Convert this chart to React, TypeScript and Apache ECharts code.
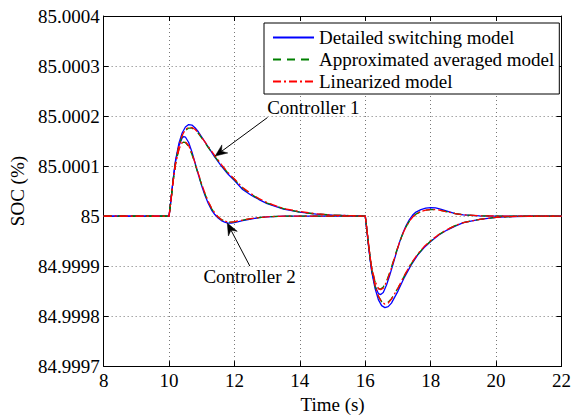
import React, { useEffect, useRef } from "react";
import * as echarts from "echarts";

const FONT = "Liberation Serif, serif";

// SOC deviation from 85 %, in units of 1e-4 %
const AXIS_BASE = 85;
const AXIS_UNIT = 1e-4;

const legendNames = ["Detailed switching model", "Approximated averaged model", "Linearized model"];

// Controller 1 sample times (s)
const timeC1 = [
  8, 10, 10.05, 10.1, 10.15, 10.2, 10.3, 10.4, 10.5, 10.6, 10.7, 10.8, 10.9, 11, 11.2, 11.4, 11.6, 11.8, 12,
  12.25, 12.5, 12.75, 13, 13.5, 14, 14.5, 15, 15.5, 16,
  16.05, 16.1, 16.15, 16.2, 16.3, 16.4, 16.5, 16.6, 16.7, 16.8, 16.9, 17, 17.2, 17.4, 17.6, 17.8, 18,
  18.25, 18.5, 18.75, 19, 19.5, 20, 20.5, 21, 22,
];
const detailedC1 = [
  0, 0, 0.28, 0.58, 0.87, 1.12, 1.45, 1.66, 1.78, 1.83, 1.82, 1.76, 1.68, 1.58, 1.38, 1.18, 1.0, 0.84, 0.71,
  0.53, 0.42, 0.33, 0.25, 0.14, 0.08, 0.04, 0.02, 0.01, 0,
  -0.3, -0.6, -0.88, -1.12, -1.45, -1.67, -1.79, -1.83, -1.81, -1.74, -1.62, -1.5, -1.22, -0.98, -0.78, -0.63, -0.51,
  -0.38, -0.28, -0.2, -0.13, -0.065, -0.025, -0.01, -0.004, 0,
];
const averagedC1 = [
  0, 0, 0.27, 0.56, 0.84, 1.08, 1.4, 1.6, 1.71, 1.76, 1.76, 1.72, 1.65, 1.56, 1.37, 1.19, 1.02, 0.86, 0.73,
  0.56, 0.44, 0.34, 0.26, 0.15, 0.08, 0.04, 0.02, 0.01, 0,
  -0.29, -0.58, -0.85, -1.08, -1.4, -1.6, -1.71, -1.74, -1.72, -1.65, -1.55, -1.44, -1.19, -0.96, -0.77, -0.62, -0.5,
  -0.37, -0.27, -0.19, -0.13, -0.065, -0.025, -0.01, -0.004, 0,
];
const linearizedC1 = [
  0, 0, 0.26, 0.55, 0.83, 1.07, 1.4, 1.61, 1.73, 1.78, 1.77, 1.73, 1.66, 1.57, 1.39, 1.21, 1.03, 0.87, 0.74,
  0.57, 0.45, 0.35, 0.27, 0.15, 0.09, 0.045, 0.02, 0.01, 0,
  -0.28, -0.57, -0.84, -1.07, -1.39, -1.6, -1.72, -1.76, -1.74, -1.66, -1.55, -1.44, -1.18, -0.95, -0.76, -0.61, -0.49,
  -0.37, -0.27, -0.19, -0.13, -0.065, -0.025, -0.01, -0.004, 0,
];

// Controller 2 sample times (s)
const timeC2 = [
  8, 10, 10.05, 10.1, 10.15, 10.2, 10.3, 10.4, 10.45, 10.5, 10.6, 10.7, 10.8, 10.9, 11, 11.1, 11.2, 11.3, 11.4,
  11.5, 11.6, 11.7, 11.8, 11.9, 12, 12.25, 12.5, 12.75, 13, 13.5, 16,
  16.05, 16.1, 16.15, 16.2, 16.3, 16.4, 16.47, 16.55, 16.65, 16.75, 16.85, 16.95, 17.05, 17.15, 17.25, 17.35,
  17.45, 17.55, 17.7, 17.85, 18, 18.15, 18.3, 18.5, 18.75, 19, 19.5, 20, 22,
];
const detailedC2 = [
  0, 0, 0.28, 0.58, 0.86, 1.1, 1.4, 1.56, 1.59, 1.58, 1.47, 1.28, 1.05, 0.82, 0.6, 0.41, 0.25, 0.12, 0.03,
  -0.04, -0.09, -0.12, -0.14, -0.14, -0.13, -0.09, -0.06, -0.03, -0.015, 0, 0,
  -0.28, -0.58, -0.86, -1.1, -1.4, -1.55, -1.57, -1.53, -1.38, -1.18, -0.96, -0.73, -0.52, -0.34, -0.19, -0.07,
  0.02, 0.08, 0.13, 0.16, 0.17, 0.165, 0.14, 0.1, 0.05, 0.025, 0.005, 0, 0,
];
const averagedC2 = [
  0, 0, 0.27, 0.56, 0.83, 1.05, 1.33, 1.46, 1.48, 1.47, 1.39, 1.23, 1.03, 0.82, 0.62, 0.44, 0.28, 0.15, 0.05,
  -0.02, -0.07, -0.1, -0.12, -0.12, -0.115, -0.08, -0.05, -0.03, -0.015, 0, 0,
  -0.27, -0.56, -0.83, -1.05, -1.32, -1.45, -1.46, -1.42, -1.3, -1.12, -0.92, -0.71, -0.52, -0.35, -0.21, -0.1,
  -0.02, 0.04, 0.09, 0.12, 0.13, 0.13, 0.115, 0.085, 0.05, 0.025, 0.005, 0, 0,
];
const linearizedC2 = [
  0, 0, 0.26, 0.55, 0.82, 1.04, 1.33, 1.47, 1.49, 1.48, 1.41, 1.25, 1.05, 0.84, 0.64, 0.45, 0.29, 0.16, 0.06,
  -0.02, -0.07, -0.1, -0.12, -0.12, -0.11, -0.08, -0.05, -0.03, -0.015, 0, 0,
  -0.26, -0.55, -0.82, -1.04, -1.31, -1.45, -1.47, -1.44, -1.32, -1.14, -0.93, -0.72, -0.52, -0.35, -0.21, -0.1,
  -0.02, 0.04, 0.09, 0.12, 0.13, 0.13, 0.115, 0.085, 0.05, 0.025, 0.005, 0, 0,
];

// Callouts: label anchor, arrow tail and arrow tip, all in data coordinates
const callouts = [
  { label: "Controller 1", at: [13.0, 2.17], tail: [13.01, 1.97], tip: [11.41, 1.2] },
  { label: "Controller 2", at: [11.05, -1.21], tail: [12.47, -1.0], tip: [11.78, -0.14] },
];

const zip = (t: number[], v: number[]) => t.map((x, i) => [x, v[i]]);

const styles = [
  { color: "#0000ff", type: "solid" as any },
  { color: "#008000", type: [8, 6] as any },
  { color: "#ff0000", type: [8, 3, 2, 3] as any },
];

function makeSeries() {
  const groups = [
    [timeC1, [detailedC1, averagedC1, linearizedC1]],
    [timeC2, [detailedC2, averagedC2, linearizedC2]],
  ] as [number[], number[][]][];
  const out: any[] = [];
  for (let m = 0; m < 3; m++) {
    for (const [t, vals] of groups) {
      out.push({
        type: "line",
        name: legendNames[m],
        data: zip(t, vals[m]),
        symbol: "none",
        showSymbol: false,
        z: 2 + m,
        lineStyle: { color: styles[m].color, width: 1.3, type: styles[m].type },
        itemStyle: { color: styles[m].color },
      });
    }
  }
  return out;
}

const axisCommon = {
  axisLine: { show: true, onZero: false, lineStyle: { color: "#000", width: 1 } },
  axisTick: { show: true, inside: true, length: 5, lineStyle: { color: "#000" } },
};

const textBase = { fontSize: 19, color: "#000", fontFamily: FONT };

export default function App() {
  const ref = useRef<HTMLDivElement>(null);
  useEffect(() => {
    const chart = echarts.init(ref.current!, null, { renderer: "svg" });
    chart.setOption({
      animation: false,
      backgroundColor: "#fff",
      textStyle: { fontFamily: FONT },
      grid: { left: 102, right: 10, top: 16, bottom: 41 },
      legend: {
        data: legendNames,
        orient: "vertical",
        left: 264,
        top: 23,
        padding: [5, 5, 3, 8],
        itemGap: 3,
        itemWidth: 41,
        itemHeight: 14,
        borderColor: "#000",
        borderWidth: 1,
        backgroundColor: "#fff",
        itemStyle: { opacity: 0 },
        textStyle: { ...textBase },
      },
      xAxis: [
        {
          type: "value",
          min: 8,
          max: 22,
          interval: 2,
          position: "bottom",
          name: "Time (s)",
          nameLocation: "middle",
          nameGap: 24,
          nameTextStyle: { ...textBase },
          ...axisCommon,
          axisLabel: { ...textBase, margin: 5 },
          splitLine: { show: true, lineStyle: { color: "#777", width: 1, type: [1, 3] } },
        },
        {
          type: "value",
          min: 8,
          max: 22,
          interval: 2,
          position: "top",
          ...axisCommon,
          axisLabel: { show: false },
          splitLine: { show: false },
        },
      ],
      yAxis: [
        {
          type: "value",
          min: -3,
          max: 4,
          interval: 1,
          position: "left",
          name: "SOC (%)",
          nameLocation: "middle",
          nameGap: 72,
          nameTextStyle: { ...textBase },
          ...axisCommon,
          axisLabel: {
            ...textBase,
            margin: 4,
            formatter: (v: number) =>
              Math.abs(v) < 1e-9 ? String(AXIS_BASE) : (AXIS_BASE + v * AXIS_UNIT).toFixed(4),
          },
          splitLine: { show: true, lineStyle: { color: "#777", width: 1, type: [1, 3] } },
        },
        {
          type: "value",
          min: -3,
          max: 4,
          interval: 1,
          position: "right",
          ...axisCommon,
          axisLabel: { show: false },
          splitLine: { show: false },
        },
      ],
      series: makeSeries(),
    });

    const toPx = (p: number[]) => chart.convertToPixel({ xAxisIndex: 0, yAxisIndex: 0 }, p) as number[];
    const graphics: any[] = [];
    for (const c of callouts) {
      const at = toPx(c.at);
      const P = toPx(c.tip);
      const Q = toPx(c.tail);
      const dx = P[0] - Q[0];
      const dy = P[1] - Q[1];
      const len = Math.hypot(dx, dy);
      const ux = dx / len;
      const uy = dy / len;
      const nx = -uy;
      const ny = ux;
      const L = 12;
      const W = 5;
      const notch = 8;
      const base = [P[0] - ux * notch, P[1] - uy * notch];
      graphics.push({
        type: "line",
        z: 100,
        shape: { x1: Q[0], y1: Q[1], x2: base[0], y2: base[1] },
        style: { stroke: "#000", lineWidth: 1 },
      });
      graphics.push({
        type: "polygon",
        z: 100,
        shape: {
          points: [
            [P[0], P[1]],
            [P[0] - ux * L + nx * W, P[1] - uy * L + ny * W],
            base,
            [P[0] - ux * L - nx * W, P[1] - uy * L - ny * W],
          ],
        },
        style: { fill: "#000", stroke: "#000", lineWidth: 0.5 },
      });
      graphics.push({
        type: "text",
        z: 100,
        x: at[0],
        y: at[1],
        style: {
          text: c.label,
          fontSize: 19,
          fontFamily: FONT,
          fill: "#000",
          align: "left",
          verticalAlign: "middle",
        },
      });
    }
    chart.setOption({ graphic: graphics });

    return () => chart.dispose();
  }, []);

  return (
    <div
      ref={ref}
      style={{ position: "fixed", left: 0, top: 0, width: 574, height: 419, background: "#fff" }}
    />
  );
}
